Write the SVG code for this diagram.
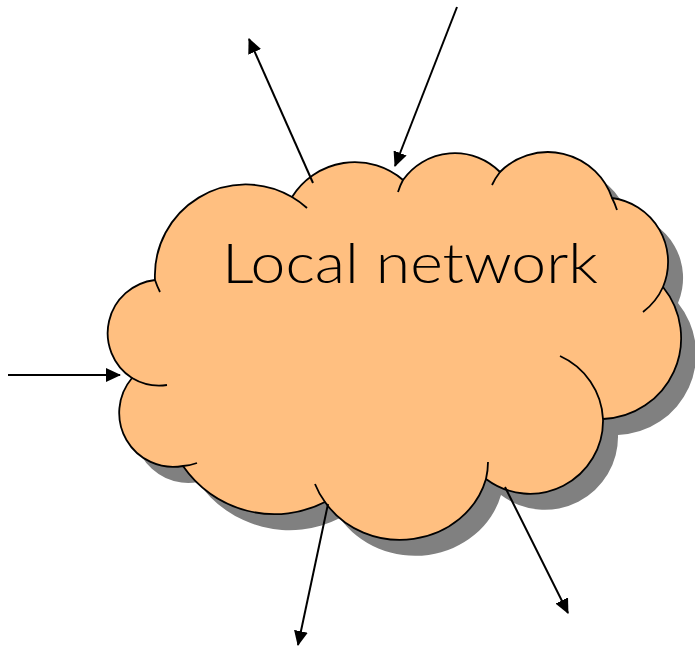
<svg xmlns="http://www.w3.org/2000/svg" xmlns:xlink="http://www.w3.org/1999/xlink" width="695" height="649" viewBox="0 0 695 649">
  <style>
    .outline { stroke: #000; stroke-width: 1.8; stroke-linejoin: round; }
    .tail { fill: none; stroke: #000; stroke-width: 1.8; stroke-linecap: butt; }
    .conn { stroke: #000; stroke-width: 2; fill: none; }
    .label { font-family: "Lato", "Liberation Sans", sans-serif; font-weight: 300; font-size: 56px; fill: #000; }
  </style>
  <defs>
    <path id="cloudShape" d="M155,280 A91 91 0 0 1 292,197 A74 74 0 0 1 403,180 A63.5 63.5 0 0 1 500,172 A67.6 67.6 0 0 1 612,198 A64.5 64.5 0 0 1 663,287 A81 81 0 0 1 603,419 A73 73 0 0 1 486,479 A89 82 0 0 1 325,502 A111 111 0 0 1 183,466 A54 54 0 0 1 132,378 A53.5 53.5 0 0 1 155,280 Z"/>
    <marker id="arrow" viewBox="0 0 15 14" markerWidth="15" markerHeight="14" refX="14" refY="7" orient="auto" markerUnits="userSpaceOnUse">
      <path d="M0,0 L15,7 L0,14 Z" fill="#000"/>
    </marker>
  </defs>
  <g id="local-network">
    <use xlink:href="#cloudShape" href="#cloudShape" transform="translate(15,16)" fill="#808080"/>
    <use xlink:href="#cloudShape" href="#cloudShape" class="outline" fill="#FFBF80"/>
    <path class="tail" d="M160,292 A91 91 0 0 1 155,280 M292,197 A91 91 0 0 1 307,208 M398,192 A63.5 63.5 0 0 1 403,180 M492,185 A67.6 67.6 0 0 1 500,172 M612,198 A67.6 67.6 0 0 1 617,210 M663,287 A64.5 64.5 0 0 1 643,312 M560,356 A73 73 0 0 1 603,419 M488,462 A89 82 0 0 1 486,479 M325,502 A89 82 0 0 1 315,484 M197,463 A54 54 0 0 1 183,466 M167,385 A53.5 53.5 0 0 1 132,378"/>
    <text class="label" x="222" y="283" textLength="376" lengthAdjust="spacingAndGlyphs">Local network</text>
  </g>
  <g id="connectors">
    <line class="conn" x1="313" y1="183" x2="249" y2="39" marker-end="url(#arrow)"/>
    <line class="conn" x1="457" y1="7" x2="395" y2="166" marker-end="url(#arrow)"/>
    <line class="conn" x1="8" y1="375" x2="120" y2="375" marker-end="url(#arrow)"/>
    <line class="conn" x1="328" y1="504" x2="298" y2="645" marker-end="url(#arrow)"/>
    <line class="conn" x1="505" y1="487" x2="568" y2="613" marker-end="url(#arrow)"/>
  </g>
</svg>
